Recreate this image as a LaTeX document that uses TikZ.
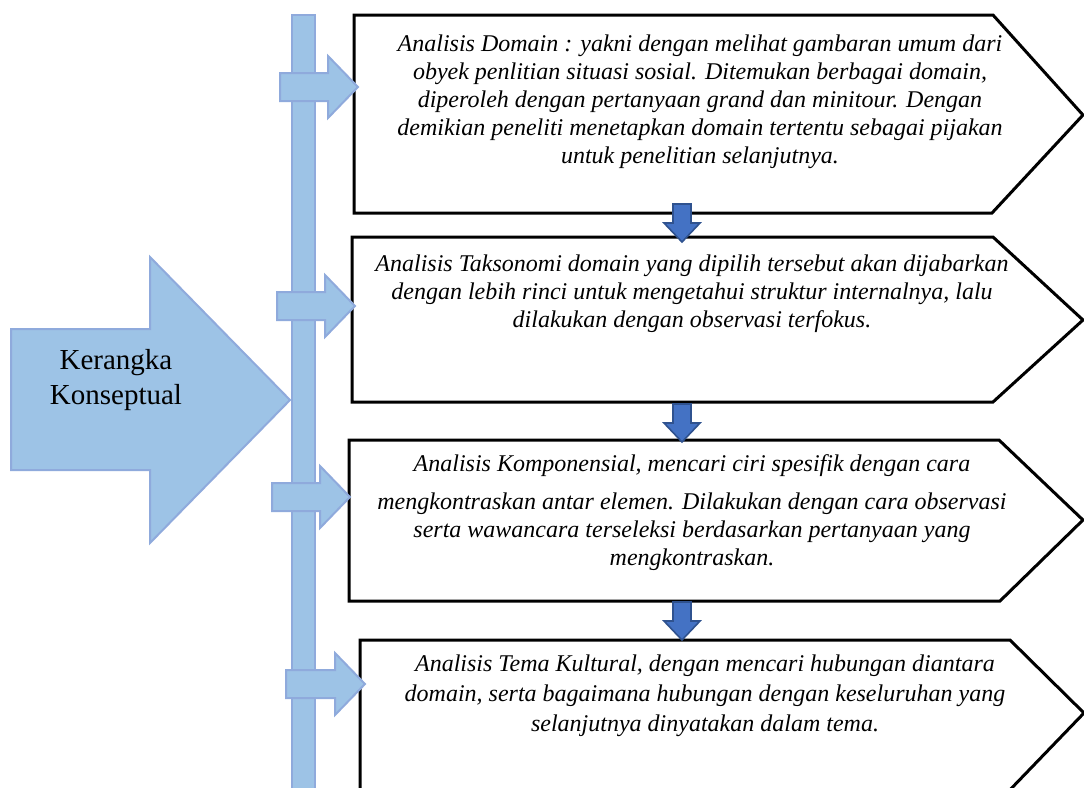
\documentclass[tikz,border=0pt]{standalone}
\usepackage{fontspec}
\setmainfont{Liberation Serif}
\usepackage{xcolor}
\usepackage{tikz}
\usetikzlibrary{positioning, calc}
\definecolor{KKLight}{RGB}{157, 195, 230}
\definecolor{KKLightEdge}{RGB}{143, 170, 220}
\definecolor{KKDark}{RGB}{68, 114, 196}
\definecolor{KKDarkEdge}{RGB}{47, 82, 143}

\tikzset{
  lightblock/.style={fill=KKLight, draw=KKLightEdge, line width=1pt},
  darkblock/.style={fill=KKDark, draw=KKDarkEdge, line width=0.8pt},
  stagebox/.style={draw=black, line width=1.5pt, fill=white},
  stagetext/.style={align=center, font=\itshape\fontsize{12}{14}\selectfont},
}

\begin{document}
\begin{tikzpicture}[x=0.5pt,y=-0.5pt]
  \clip (0,0) rectangle (1084,788);
  \fill[white] (0,0) rectangle (1084,788);
  % vertical bar
  \draw[lightblock] (292,15) rectangle (315,795);
  % big arrow
  \draw[lightblock] (11,329) -- (150,329) -- (150,257) -- (290,400) -- (150,543)
    -- (150,470) -- (11,470) -- cycle;
  \node[align=center, font=\fontsize{14.5}{17.5}\selectfont] (kerangka) at (116,380)
    {Kerangka\\Konseptual};
  % stage boxes
  \draw[stagebox] (354,15) -- (993,15) -- (1083,115) -- (992,213) -- (354,213) -- cycle;
  \draw[stagebox] (352,237) -- (993,237) -- (1083,320) -- (993,402) -- (352,402) -- cycle;
  \draw[stagebox] (349,440) -- (999,440) -- (1083,520) -- (1000,601) -- (349,601) -- cycle;
  \draw[stagebox] (360,640) -- (1010,640) -- (1084,713) -- (1005,795) -- (360,795) -- cycle;
  % small arrows from the bar
  \foreach \xa/\xt/\yc in {280/358/87, 277/355/306, 272/350/497, 286/365/684} {
    \draw[lightblock] (\xa,\yc-14) -- (\xt-30,\yc-14) -- (\xt-30,\yc-31) -- (\xt,\yc)
      -- (\xt-30,\yc+31) -- (\xt-30,\yc+14) -- (\xa,\yc+14) -- cycle;
  }
  % down arrows between boxes
  \foreach \yt in {204, 404, 602} {
    \draw[darkblock] (673,\yt) -- (691,\yt) -- (691,\yt+19) -- (700,\yt+19) -- (682,\yt+38)
      -- (664,\yt+19) -- (673,\yt+19) -- cycle;
  }
  \node[stagetext] (domain) at (700,102) {Analisis Domain : yakni dengan melihat gambaran umum dari\\
    obyek penlitian situasi sosial. Ditemukan berbagai domain,\\
    diperoleh dengan pertanyaan grand dan minitour. Dengan\\
    demikian peneliti menetapkan domain tertentu sebagai pijakan\\
    untuk penelitian selanjutnya.};
  \node[stagetext] (taksonomi) at (692,294) {Analisis Taksonomi domain yang dipilih tersebut akan dijabarkan\\
    dengan lebih rinci untuk mengetahui struktur internalnya, lalu\\
    dilakukan dengan observasi terfokus.};
  \node[stagetext] (komponen) at (692,513) {Analisis Komponensial, mencari ciri spesifik dengan cara\\[5pt]
    mengkontraskan antar elemen. Dilakukan dengan cara observasi\\
    serta wawancara terseleksi berdasarkan pertanyaan yang\\
    mengkontraskan.};
  \node[stagetext, font=\itshape\fontsize{12}{15}\selectfont] (tema) at (705,696) {Analisis Tema Kultural, dengan mencari hubungan diantara\\
    domain, serta bagaimana hubungan dengan keseluruhan yang\\
    selanjutnya dinyatakan dalam tema.};
\end{tikzpicture}
\end{document}
